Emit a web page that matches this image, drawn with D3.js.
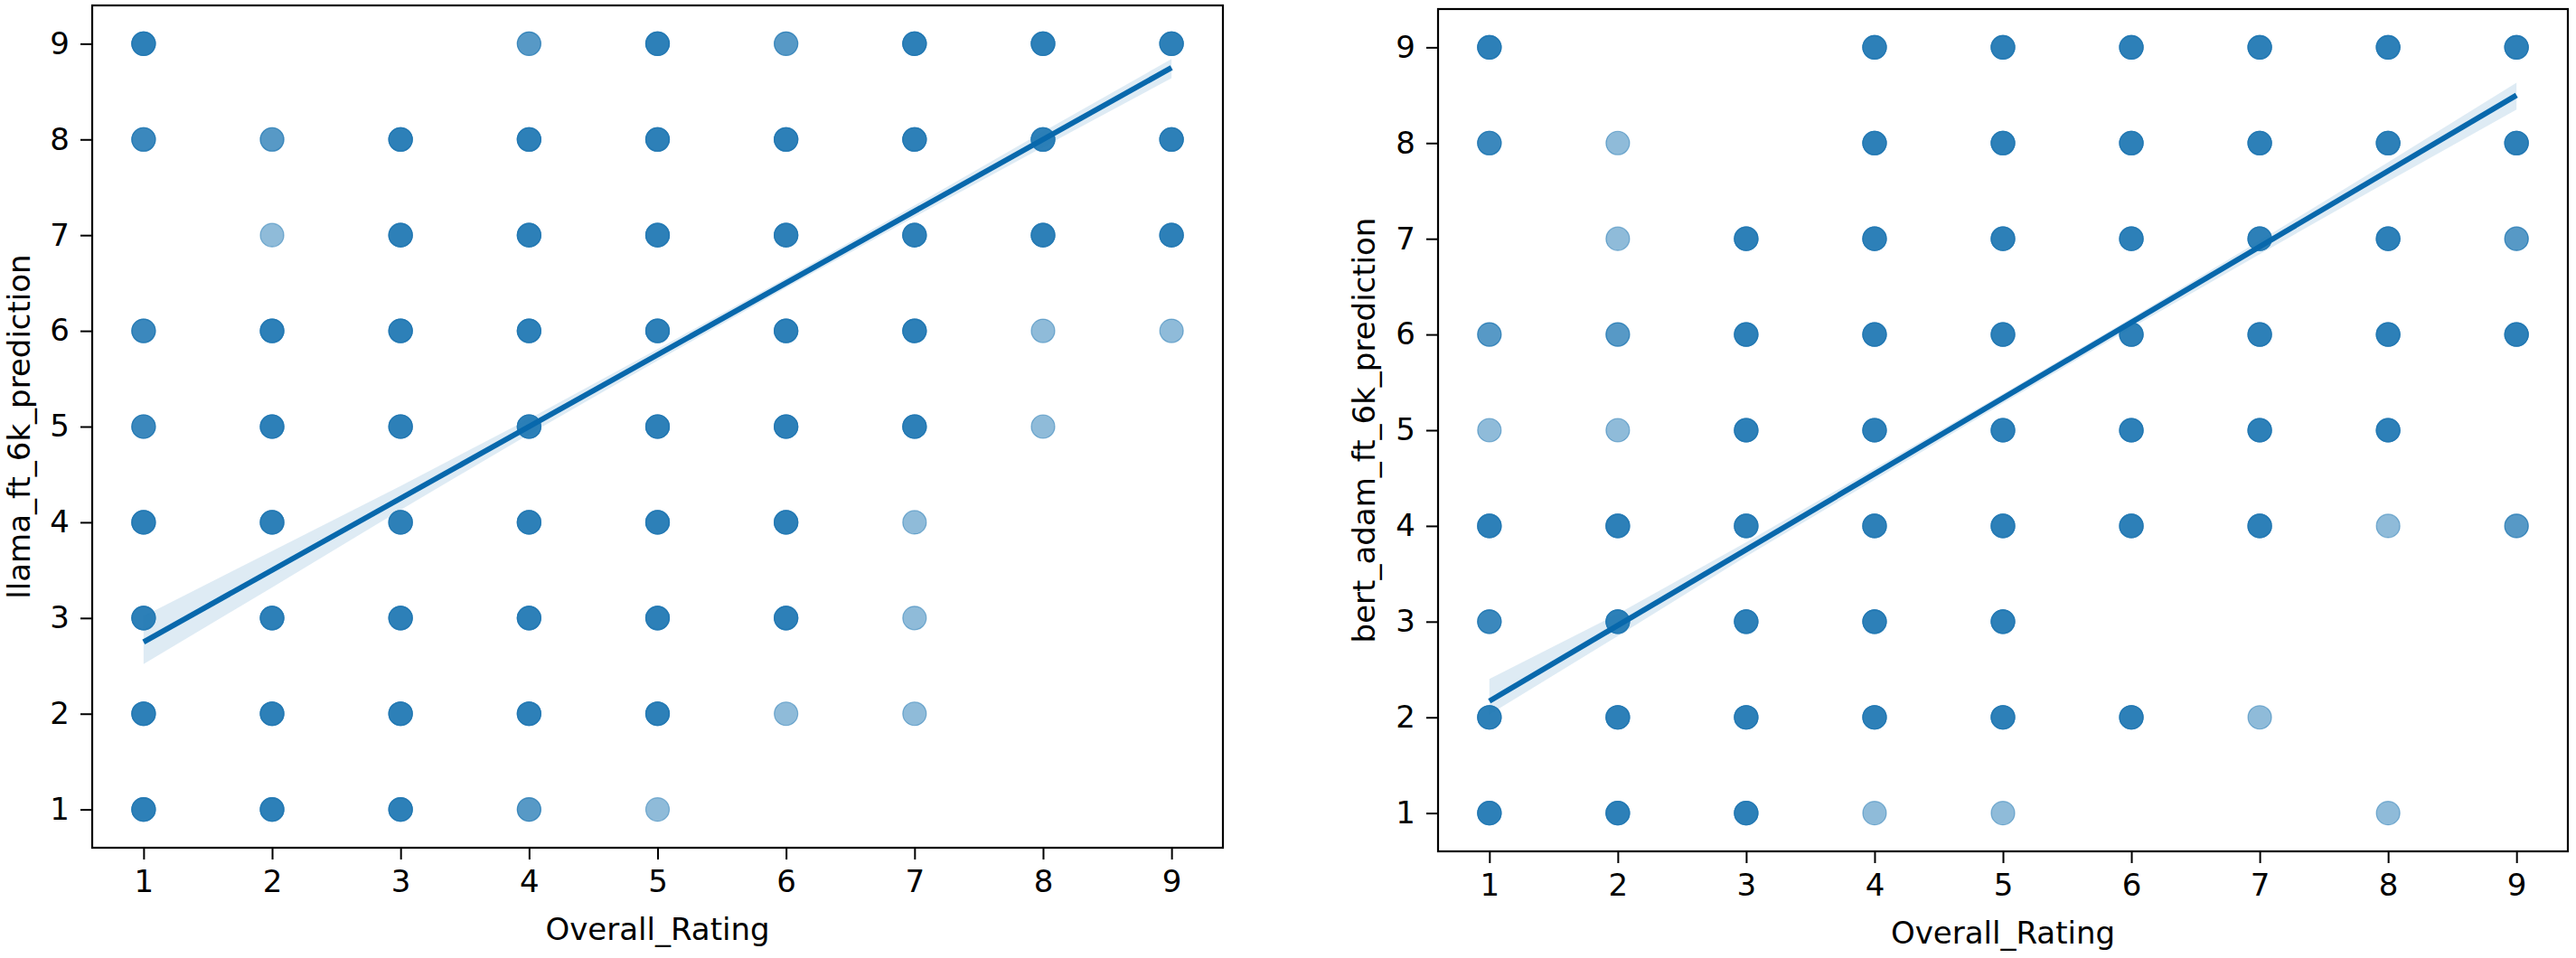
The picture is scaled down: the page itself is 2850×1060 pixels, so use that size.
<!DOCTYPE html>
<html>
<head>
<meta charset="utf-8">
<script src="https://cdn.jsdelivr.net/npm/d3@7"></script>
<style>
	body { margin: 0; background: #fff; }
	svg text { font-family: "DejaVu Sans", sans-serif; fill: #000; }
</style>
</head>
<body>
<div id="chart"></div>
<script>
// tick values shared by both axes
var ratings = [1, 2, 3, 4, 5, 6, 7, 8, 9];

// [Overall_Rating, prediction, overlapping points]
var llamaPoints = [
	[1,9,4],[4,9,2],[5,9,4],[6,9,2],[7,9,4],[8,9,4],[9,9,4],
	[1,8,3],[2,8,2],[3,8,4],[4,8,4],[5,8,4],[6,8,4],[7,8,4],[8,8,4],[9,8,4],
	[2,7,1],[3,7,4],[4,7,4],[5,7,4],[6,7,4],[7,7,4],[8,7,4],[9,7,4],
	[1,6,3],[2,6,4],[3,6,4],[4,6,4],[5,6,4],[6,6,4],[7,6,4],[8,6,1],[9,6,1],
	[1,5,3],[2,5,4],[3,5,4],[4,5,4],[5,5,4],[6,5,4],[7,5,4],[8,5,1],
	[1,4,4],[2,4,4],[3,4,4],[4,4,4],[5,4,4],[6,4,4],[7,4,1],
	[1,3,4],[2,3,4],[3,3,4],[4,3,4],[5,3,4],[6,3,4],[7,3,1],
	[1,2,4],[2,2,4],[3,2,4],[4,2,4],[5,2,4],[6,2,1],[7,2,1],
	[1,1,4],[2,1,4],[3,1,4],[4,1,2],[5,1,1]
];
var bertPoints = [
	[1,9,4],[4,9,4],[5,9,4],[6,9,4],[7,9,4],[8,9,4],[9,9,4],
	[1,8,3],[2,8,1],[4,8,4],[5,8,4],[6,8,4],[7,8,4],[8,8,4],[9,8,4],
	[2,7,1],[3,7,4],[4,7,4],[5,7,4],[6,7,4],[7,7,4],[8,7,4],[9,7,2],
	[1,6,2],[2,6,2],[3,6,4],[4,6,4],[5,6,4],[6,6,4],[7,6,4],[8,6,4],[9,6,4],
	[1,5,1],[2,5,1],[3,5,4],[4,5,4],[5,5,4],[6,5,4],[7,5,4],[8,5,4],
	[1,4,4],[2,4,4],[3,4,4],[4,4,4],[5,4,4],[6,4,4],[7,4,4],[8,4,1],[9,4,2],
	[1,3,3],[2,3,4],[3,3,4],[4,3,4],[5,3,4],
	[1,2,4],[2,2,4],[3,2,4],[4,2,4],[5,2,4],[6,2,4],[7,2,1],
	[1,1,4],[2,1,4],[3,1,4],[4,1,1],[5,1,1],[8,1,1]
];

// regression fit, read at x = 1 and x = 9
var fitEnds = [1, 9];
var llamaFit = [2.75, 8.75];
var bertFit = [2.17, 8.50];

// confidence band, read at each rating
var llamaCiLow  = [2.52, 3.32, 4.13, 4.92, 5.69, 6.45, 7.19, 7.92, 8.64];
var llamaCiHigh = [3.02, 3.70, 4.38, 5.08, 5.81, 6.55, 7.31, 8.08, 8.84];
var bertCiLow   = [2.03, 2.85, 3.68, 4.48, 5.28, 6.07, 6.84, 7.60, 8.35];
var bertCiHigh  = [2.40, 3.08, 3.83, 4.60, 5.38, 6.17, 6.98, 7.80, 8.63];

var blue = "#1f77b4";

var svg = d3.select("#chart").append("svg")
	.attr("width", 2850)
	.attr("height", 1060);

function panel(opts) {
	var x = d3.scaleLinear().domain([0.6, 9.4]).range([opts.left, opts.right]);
	var y = d3.scaleLinear().domain([0.6, 9.4]).range([opts.bottom, opts.top]);
	var g = svg.append("g");

	// scatter, one circle per observation so overlaps darken
	var obs = [];
	opts.points.forEach(function(p) {
		for (var i = 0; i < p[2]; i++) obs.push(p);
	});
	g.append("g").selectAll("circle")
			.data(obs)
		.enter().append("circle")
			.attr("cx", function(d) { return x(d[0]); })
			.attr("cy", function(d) { return y(d[1]); })
			.attr("r", 13)
			.style("fill", blue)
			.style("fill-opacity", 0.5)
			.style("stroke", blue)
			.style("stroke-opacity", 0.5)
			.style("stroke-width", 1.2);

	// confidence band
	var area = d3.area()
		.x(function(d, i) { return x(ratings[i]); })
		.y0(function(d, i) { return y(opts.ciLow[i]); })
		.y1(function(d, i) { return y(opts.ciHigh[i]); });
	g.append("path")
		.datum(ratings)
		.attr("d", area)
		.style("fill", blue)
		.style("fill-opacity", 0.15)
		.style("stroke", "none");

	// fit line
	var line = d3.line()
		.x(function(d, i) { return x(fitEnds[i]); })
		.y(function(d) { return y(d); });
	g.append("path")
		.datum(opts.fit)
		.attr("d", line)
		.style("fill", "none")
		.style("stroke", "#0868ac")
		.style("stroke-width", 6);

	// axes
	var xAxis = g.append("g")
		.attr("transform", "translate(0," + opts.bottom + ")")
		.call(d3.axisBottom(x).tickValues(ratings).tickSize(13).tickPadding(12).tickFormat(d3.format("d")));
	var yAxis = g.append("g")
		.attr("transform", "translate(" + opts.left + ",0)")
		.call(d3.axisLeft(y).tickValues(ratings).tickSize(13).tickPadding(12).tickFormat(d3.format("d")));
	[xAxis, yAxis].forEach(function(a) {
		a.select(".domain").remove();
		a.selectAll("line").style("stroke", "#000").style("stroke-width", 2);
		a.selectAll("text").style("font-size", "34px").style("font-family", "DejaVu Sans");
	});

	// box
	g.append("rect")
		.attr("x", opts.left)
		.attr("y", opts.top)
		.attr("width", opts.right - opts.left)
		.attr("height", opts.bottom - opts.top)
		.style("fill", "none")
		.style("stroke", "#000")
		.style("stroke-width", 2.2);

	g.append("text")
		.attr("x", (opts.left + opts.right) / 2)
		.attr("y", opts.bottom + 102)
		.attr("text-anchor", "middle")
		.style("font-size", "34px")
		.text("Overall_Rating");

	g.append("text")
		.attr("transform", "translate(" + opts.labelX + "," + (opts.top + opts.bottom) / 2 + ") rotate(-90)")
		.attr("text-anchor", "middle")
		.style("font-size", "34px")
		.text(opts.yLabel);
}

panel({
	left: 102, right: 1353, top: 6, bottom: 938, labelX: 33,
	points: llamaPoints, fit: llamaFit, ciLow: llamaCiLow, ciHigh: llamaCiHigh,
	yLabel: "llama_ft_6k_prediction"
});
panel({
	left: 1591, right: 2841, top: 10, bottom: 942, labelX: 1521,
	points: bertPoints, fit: bertFit, ciLow: bertCiLow, ciHigh: bertCiHigh,
	yLabel: "bert_adam_ft_6k_prediction"
});
</script>
</body>
</html>
